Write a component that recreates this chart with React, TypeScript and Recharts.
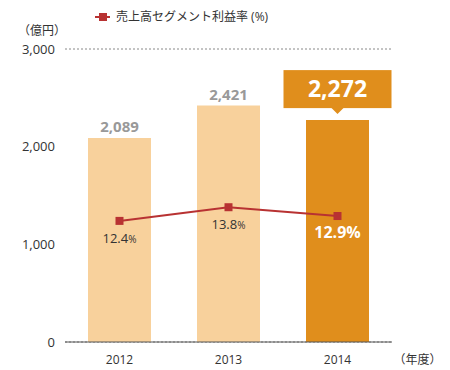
import { ComposedChart, Bar, Line, XAxis, YAxis, CartesianGrid, Cell, LabelList } from 'recharts'

const years = ['2012', '2013', '2014']
const sales = [2089, 2421, 2272]
const marginRate = [12.4, 13.8, 12.9]
const salesTicks = [0, 1000, 2000, 3000]

const data = years.map((year, i) => ({ year, sales: sales[i], rate: marginRate[i] }))

const FONT = '"Open Sans", "Noto Sans CJK JP", sans-serif'
const LIGHT = '#F8D19C'
const DARK = '#E08E1C'
const RED = '#B83232'
const LAST = years.length - 1

const BarValue = (props: any) => {
  const { x, y, width, value, index } = props
  const cx = x + width / 2
  const text = Number(value).toLocaleString('en-US')
  if (index === LAST) {
    // callout box over the current year
    const w = 108
    const h = 38
    const bottom = y - 12
    return (
      <g>
        <rect x={cx - w / 2} y={bottom - h} width={w} height={h} fill={DARK} />
        <path d={`M${cx - 6},${bottom} L${cx + 6},${bottom} L${cx},${bottom + 6} Z`} fill={DARK} />
        <text x={cx} y={bottom - h / 2 + 8} textAnchor="middle" fill="#fff" fontSize={23} fontWeight="bold" fontFamily={FONT}>
          {text}
        </text>
      </g>
    )
  }
  return (
    <text x={cx} y={y - 6} textAnchor="middle" fill="#999" fontSize={15} fontWeight="bold" fontFamily={FONT}>
      {text}
    </text>
  )
}

const RateValue = (props: any) => {
  const { x, y, value, index } = props
  if (index === LAST) {
    return (
      <text x={x} y={y + 22} textAnchor="middle" fill="#fff" fontSize={16} fontWeight="bold" fontFamily={FONT}>
        {value}%
      </text>
    )
  }
  return (
    <text x={x} y={y + 22} textAnchor="middle" fill="#333" fontSize={13} fontFamily={FONT}>
      {value}
      <tspan fontSize={10}>%</tspan>
    </text>
  )
}

const SquareDot = (props: any) => {
  const { cx, cy } = props
  return <rect x={cx - 4} y={cy - 4} width={8} height={8} fill={RED} />
}

const LegendBox = () => (
  <svg width={200} height={20} style={{ position: 'absolute', top: 7, left: 95 }}>
    <line x1={0} y1={10} x2={15} y2={10} stroke={RED} strokeWidth={2} />
    <rect x={4} y={6} width={8} height={8} fill={RED} />
    <text x={21} y={14} fontSize={12} fill="#333" fontFamily={FONT}>
      売上高セグメント利益率 (%)
    </text>
  </svg>
)

const UnitLabel = (props: any) => {
  const { viewBox } = props
  return (
    <text x={viewBox.x + 18} y={viewBox.y - 14} fontSize={12} fill="#333" fontFamily={FONT}>
      （億円）
    </text>
  )
}

const YearTick = (props: any) => {
  const { x, y, payload, index } = props
  return (
    <g>
      <text x={x} y={y + 14} textAnchor="middle" fontSize={12} fill="#333" fontFamily={FONT}>
        {payload.value}
      </text>
      {index === LAST && (
        <text x={x + 56} y={y + 14} fontSize={12} fill="#333" fontFamily={FONT}>
          （年度）
        </text>
      )}
    </g>
  )
}

const App = () => {
  return (
    <div style={{ width: 450, height: 370, position: 'relative' }}>
      <style>{'body{margin:0}'}</style>
      <LegendBox />
      <ComposedChart width={450} height={370} data={data} margin={{ top: 49, right: 58, bottom: 0, left: 0 }}>
        <CartesianGrid vertical={false} stroke="#888" strokeDasharray="2 2" />
        <XAxis
          dataKey="year"
          tickLine={false}
          axisLine={{ stroke: '#555' }}
          height={28}
          tick={<YearTick />}
          interval={0}
        />
        <YAxis
          yAxisId="sales"
          domain={[0, 3000]}
          ticks={salesTicks}
          width={65}
          axisLine={false}
          tickLine={false}
          tickMargin={4}
          tick={{ fontSize: 13, fill: '#333', fontFamily: FONT }}
          tickFormatter={(v: number) => v.toLocaleString('en-US')}
          label={<UnitLabel />}
        />
        <YAxis yAxisId="rate" orientation="right" domain={[0, 30]} hide />
        <Bar yAxisId="sales" dataKey="sales" barSize={63} isAnimationActive={false}>
          {data.map((d, i) => (
            <Cell key={d.year} fill={i === LAST ? DARK : LIGHT} />
          ))}
          <LabelList dataKey="sales" content={<BarValue />} />
        </Bar>
        <Line
          yAxisId="rate"
          dataKey="rate"
          stroke={RED}
          strokeWidth={2}
          dot={<SquareDot />}
          activeDot={false}
          isAnimationActive={false}
        >
          <LabelList dataKey="rate" content={<RateValue />} />
        </Line>
      </ComposedChart>
    </div>
  )
}

export default App
